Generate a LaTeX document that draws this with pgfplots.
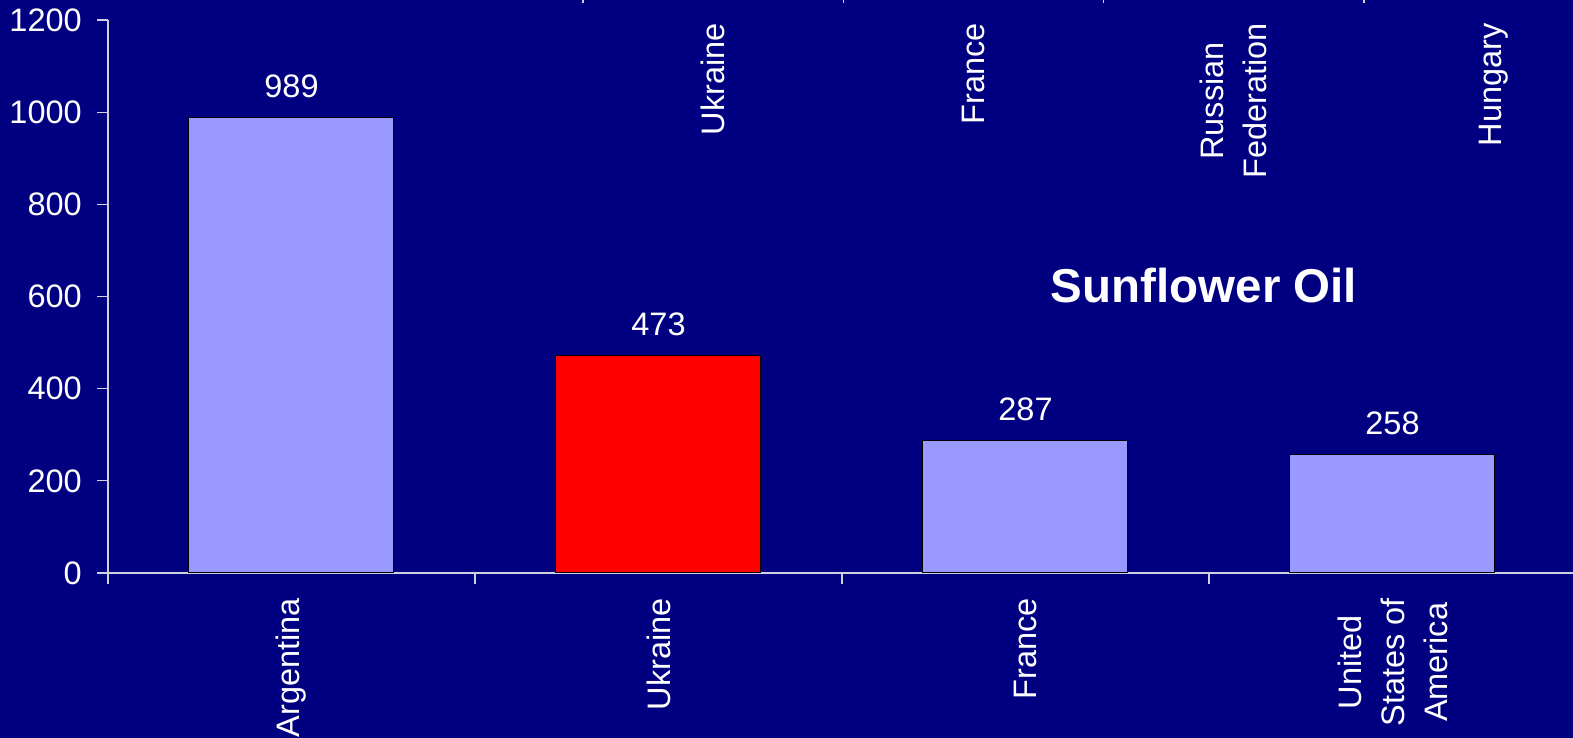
\documentclass[border=0pt]{standalone}
\usepackage{pgfplots}
\pgfplotsset{compat=1.18}
\usepackage{fontspec}
\setmainfont{Liberation Sans}
\definecolor{bg}{HTML}{000080}
\definecolor{lbar}{HTML}{9999FF}
\definecolor{axc}{HTML}{D0D0E0}
\pgfplotsset{/pgf/number format/assume math mode=true,/pgf/number format/1000 sep={}}
\newcommand{\lblfont}{\fontsize{32.5}{43}\selectfont}
\begin{document}
\begin{tikzpicture}[x=1pt,y=1pt]
\useasboundingbox[fill=bg] (0,0) rectangle (1573,738);
\clip (0,0) rectangle (1573,738);
% lower chart
\begin{axis}[
  at={(108pt,165pt)}, anchor=south west,
  scale only axis, width=1468pt, height=553pt,
  xmin=-0.5, xmax=3.5, ymin=0, ymax=1200,
  axis lines*=left,
  axis line style={axc, line width=1.2pt},
  tick style={axc, line width=1.2pt},
  tick align=outside, major tick length=11pt,
  ytick={0,200,...,1200},
  xtick={-0.5,0.5,1.5,2.5,3.5},
  x tick label as interval,
  xticklabels={Argentina,Ukraine,France,{United\\States of\\America}},
  xticklabel style={rotate=90, anchor=east, align=center, inner sep=0pt, font=\lblfont, text=white, xshift=-14pt},
  yticklabel style={inner sep=0pt, font=\lblfont, text=white, xshift=-15pt},
  clip=false,
  nodes near coords,
  nodes near coords style={font=\lblfont, text=white, anchor=south, inner sep=0pt, yshift=19pt},
]
\addplot[ybar, bar width=205pt, bar shift=0pt, fill=lbar, draw=black, line width=1pt] coordinates {(0,989) (2,287) (3,258)};
\addplot[ybar, bar width=205pt, bar shift=0pt, fill=red, draw=black, line width=1pt] coordinates {(1,473)};
\end{axis}
% upper chart (only its category axis is visible)
\begin{axis}[
  at={(583pt,745pt)}, anchor=south west,
  scale only axis, width=1301.5pt, height=200pt,
  xmin=0.5, xmax=5.5, ymin=0, ymax=1,
  axis x line*=bottom, axis y line=none,
  axis line style={axc, line width=1.2pt},
  tick style={axc, line width=1.2pt},
  tick align=outside, major tick length=10pt,
  xtick={0.5,1.5,2.5,3.5,4.5,5.5},
  x tick label as interval,
  xticklabels={Ukraine,France,{Russian\\Federation},Hungary,{}},
  xticklabel style={rotate=90, anchor=east, align=center, inner sep=0pt, font=\lblfont, text=white, xshift=-20pt},
]
\end{axis}
\node[font=\bfseries\fontsize{47.5}{50}\selectfont, text=white, anchor=base, inner sep=0pt] at (1204,435) {Sunflower Oil};
\end{tikzpicture}
\end{document}
